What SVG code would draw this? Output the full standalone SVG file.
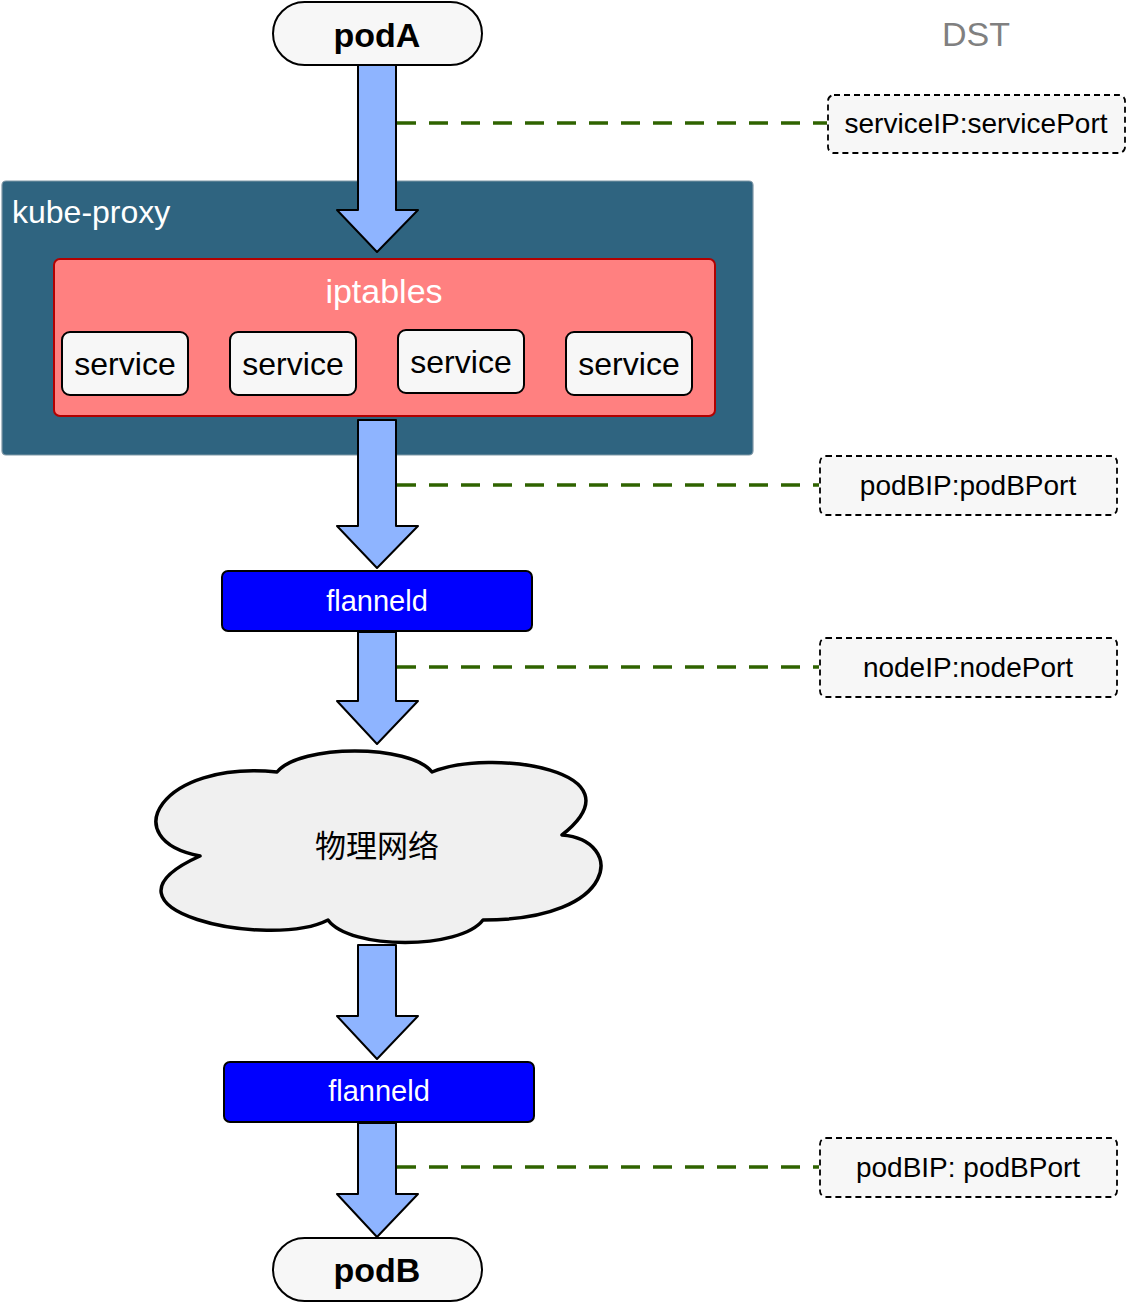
<svg xmlns="http://www.w3.org/2000/svg" width="1126" height="1304" viewBox="0 0 1126 1304">
<defs>
<style>
.t{font-family:"Liberation Sans",Arial,sans-serif;}
.pod{fill:#F7F7F7;stroke:#000;stroke-width:2;}
.podtxt{font-family:"Liberation Sans",Arial,sans-serif;font-weight:bold;font-size:34px;text-anchor:middle;fill:#000;}
.svc{fill:#F7F7F7;stroke:#000;stroke-width:2;}
.svctxt{font-family:"Liberation Sans",Arial,sans-serif;font-size:32px;text-anchor:middle;fill:#000;}
.fl{fill:#0000FF;stroke:#000;stroke-width:2;}
.fltxt{font-family:"Liberation Sans",Arial,sans-serif;font-size:29px;text-anchor:middle;fill:#fff;}
.dst{fill:#F7F7F7;stroke:#000;stroke-width:1.8;stroke-dasharray:6 4;}
.dsttxt{font-family:"Liberation Sans",Arial,sans-serif;font-size:28px;text-anchor:middle;fill:#000;}
.arrow{fill:#8EB4FF;stroke:#000;stroke-width:2;stroke-linejoin:round;}
.gl{stroke:#2F6300;stroke-width:3.5;stroke-dasharray:19 13;fill:none;}
</style>
</defs>

<g id="kube-proxy">
<rect x="2" y="181" width="751" height="274" rx="4" fill="#2F6480" stroke="#7F97A6" stroke-width="1.2"/>
<text class="t" x="12" y="223" font-size="32" fill="#fff">kube-proxy</text>
</g>

<g id="iptables">
<rect x="54" y="259" width="661" height="157" rx="6" fill="#FF8080" stroke="#B20000" stroke-width="2"/>
<text class="t" x="384" y="303" font-size="34" fill="#fff" text-anchor="middle">iptables</text>
</g>

<g id="service1">
<rect class="svc" x="62" y="332" width="126" height="63" rx="8"/>
<text class="svctxt" x="125" y="375">service</text>
</g>
<g id="service2">
<rect class="svc" x="230" y="332" width="126" height="63" rx="8"/>
<text class="svctxt" x="293" y="375">service</text>
</g>
<g id="service3">
<rect class="svc" x="398" y="330" width="126" height="63" rx="8"/>
<text class="svctxt" x="461" y="373">service</text>
</g>
<g id="service4">
<rect class="svc" x="566" y="332" width="126" height="63" rx="8"/>
<text class="svctxt" x="629" y="375">service</text>
</g>

<g id="podA">
<rect class="pod" x="273" y="2" width="209" height="63" rx="31.5"/>
<text class="podtxt" x="377" y="47">podA</text>
</g>

<g id="flanneld1">
<rect class="fl" x="222" y="571" width="310" height="60" rx="6"/>
<text class="fltxt" x="377" y="611">flanneld</text>
</g>

<g id="network">
<path d="M 277,772 C 300,744 410,744 432,772 C 490,748 645,770 562,835 C 625,840 620,920 483,920 C 460,950 350,950 328,920 C 270,950 80,910 200,856 C 115,840 160,760 277,772 Z" fill="#F0F0F0" stroke="#000" stroke-width="3.5" stroke-linejoin="round"/>
<text x="377" y="857" font-family="'Noto Sans CJK SC','Noto Sans',sans-serif" font-size="31" text-anchor="middle" fill="#000">物理网络</text>
</g>

<g id="flanneld2">
<rect class="fl" x="224" y="1062" width="310" height="60" rx="6"/>
<text class="fltxt" x="379" y="1101">flanneld</text>
</g>

<g id="podB">
<rect class="pod" x="273" y="1238" width="209" height="63" rx="31.5"/>
<text class="podtxt" x="377" y="1282">podB</text>
</g>

<g id="dst-title">
<text class="t" x="976" y="46" font-size="34" fill="#808080" text-anchor="middle">DST</text>
</g>

<g id="dst1">
<rect class="dst" x="828" y="95" width="297" height="58" rx="6"/>
<text class="dsttxt" x="976" y="133">serviceIP:servicePort</text>
</g>
<g id="dst2">
<rect class="dst" x="820" y="456" width="297" height="59" rx="6"/>
<text class="dsttxt" x="968" y="495">podBIP:podBPort</text>
</g>
<g id="dst3">
<rect class="dst" x="820" y="638" width="297" height="59" rx="6"/>
<text class="dsttxt" x="968" y="677">nodeIP:nodePort</text>
</g>
<g id="dst4">
<rect class="dst" x="820" y="1138" width="297" height="59" rx="6"/>
<text class="dsttxt" x="968" y="1177">podBIP: podBPort</text>
</g>

<g id="connectors">
<line class="gl" x1="397" y1="123" x2="827" y2="123"/>
<line class="gl" x1="397" y1="485" x2="819" y2="485"/>
<line class="gl" x1="397" y1="667" x2="819" y2="667"/>
<line class="gl" x1="397" y1="1167" x2="819" y2="1167"/>
<path class="arrow" d="M 358,65 L 396,65 L 396,210 L 418,210 L 377,252 L 337,210 L 358,210 Z"/>
<path class="arrow" d="M 358,420 L 396,420 L 396,526 L 418,526 L 377,568 L 337,526 L 358,526 Z"/>
<path class="arrow" d="M 358,632 L 396,632 L 396,701 L 418,701 L 377,744 L 337,701 L 358,701 Z"/>
<path class="arrow" d="M 358,945 L 396,945 L 396,1016 L 418,1016 L 377,1059 L 337,1016 L 358,1016 Z"/>
<path class="arrow" d="M 358,1123 L 396,1123 L 396,1194 L 418,1194 L 377,1237 L 337,1194 L 358,1194 Z"/>
</g>
</svg>
